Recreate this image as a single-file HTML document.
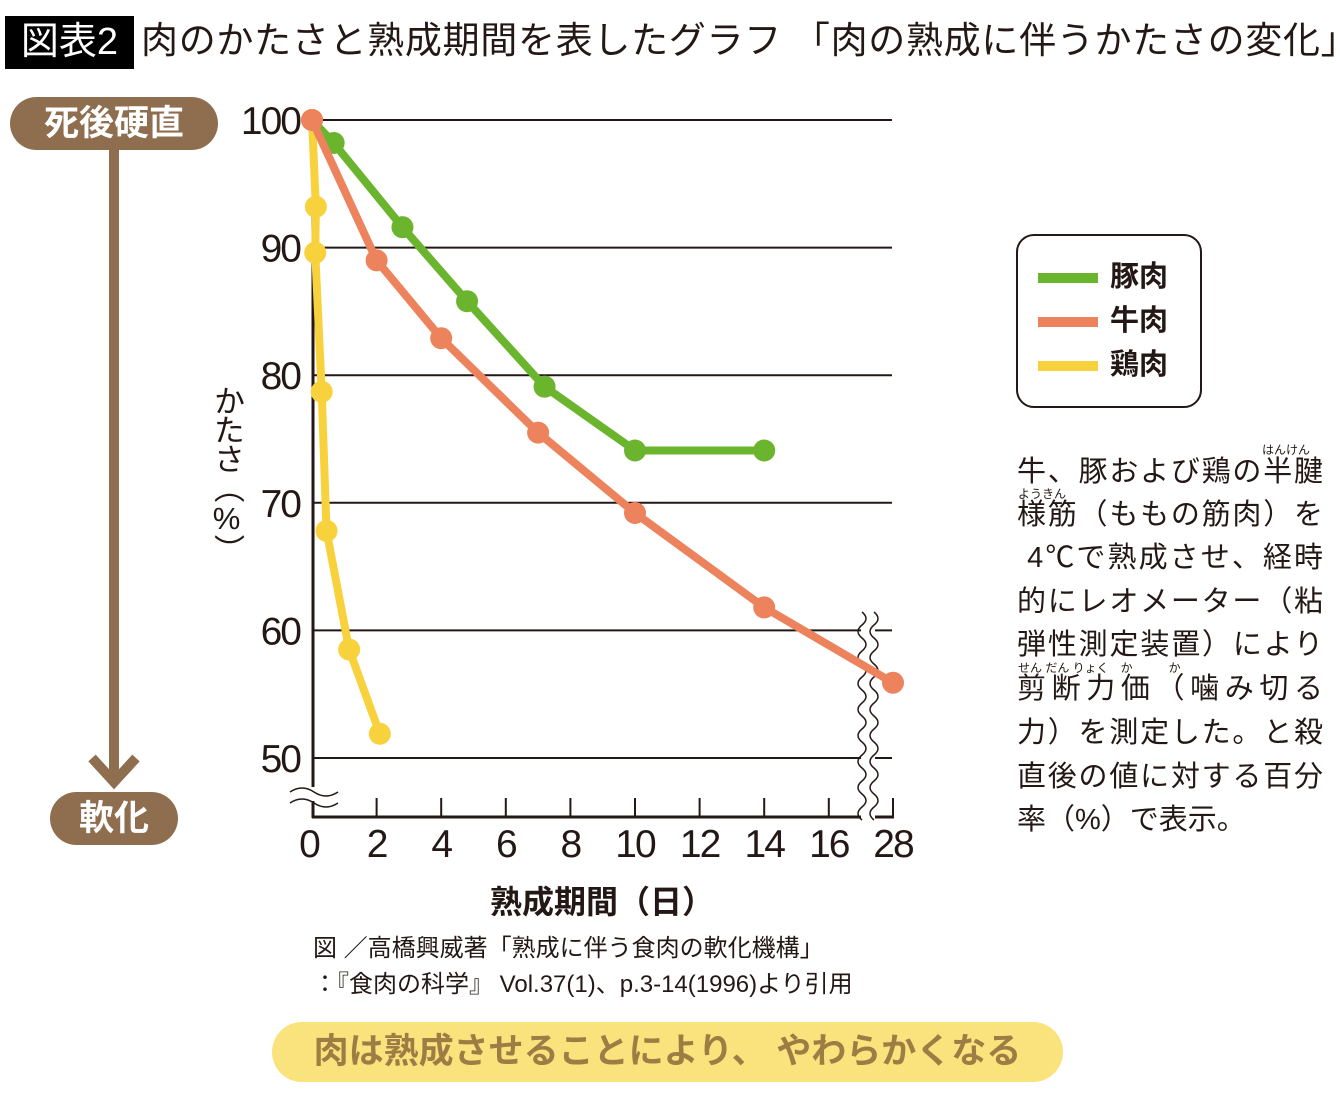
<!DOCTYPE html>
<html><head><meta charset="utf-8">
<style>
body{margin:0;width:1340px;height:1100px;background:#fff;overflow:hidden;position:relative;font-family:"Liberation Sans","Noto Sans CJK JP",sans-serif;color:#231815}
.a{position:absolute;white-space:nowrap}
.desc{position:absolute;left:1017px;font-size:29px;line-height:29px;white-space:nowrap;width:306px;text-align:justify;text-align-last:justify}
.rb{position:absolute;font-size:12px;line-height:12px;white-space:nowrap}
</style></head><body>
<div class="a" style="left:5px;top:16px;width:129px;height:53px;background:#000;color:#fff;font-size:38px;line-height:53px;text-align:center">図表2</div>
<div class="a" style="left:141px;top:18px;font-size:37px;line-height:46px;letter-spacing:0.7px">肉のかたさと熟成期間を表したグラフ 「肉の熟成に伴うかたさの変化」</div>

<div class="a" style="left:10px;top:97px;width:208px;height:53px;border-radius:27px;background:#8f6e4f;color:#fff;font-size:35px;font-weight:bold;line-height:53px;text-align:center">死後硬直</div>
<div class="a" style="left:50px;top:792px;width:128px;height:53px;border-radius:27px;background:#8f6e4f;color:#fff;font-size:35px;font-weight:bold;line-height:53px;text-align:center">軟化</div>

<svg class="a" style="left:0;top:0" width="1340" height="1100">
<line x1="114" y1="148" x2="114" y2="780" stroke="#8f6e4f" stroke-width="10"/>
<polyline points="92,758 114,782 136,758" fill="none" stroke="#8f6e4f" stroke-width="10"/>
<g id="grid"></g>
<g id="axes"></g>
<g id="series"></g>
</svg>

<div class="a" style="left:208px;top:385px;font-size:31px;writing-mode:vertical-rl;text-orientation:upright;line-height:36px;letter-spacing:-2px">かたさ（%）</div>
<div class="a" style="left:490px;top:882px;font-size:32px;font-weight:bold;line-height:40px">熟成期間（日）</div>
<div class="a" style="left:313px;top:934px;font-size:24px;line-height:30px">図 ／高橋興威著「熟成に伴う食肉の軟化機構」</div>
<div class="a" style="left:313px;top:970px;font-size:24px;line-height:30px">：『食肉の科学』 Vol.37(1)、p.3-14(1996)より引用</div>

<div class="a" style="left:272px;top:1022px;width:791px;height:60px;border-radius:30px;background:#fae27c;color:#9e7d45;font-size:35px;font-weight:bold;line-height:60px;text-align:center">肉は熟成させることにより、 やわらかくなる</div>

<div class="a" style="left:1016px;top:234px;width:182px;height:170px;border:2px solid #231815;border-radius:18px"></div>
<div class="a" style="left:1038px;top:262px;font-size:29px;font-weight:bold;line-height:30px"><span style="display:inline-block;width:60px;height:10px;background:#6bb42e;vertical-align:middle;margin-right:12px"></span>豚肉</div>
<div class="a" style="left:1038px;top:306px;font-size:29px;font-weight:bold;line-height:30px"><span style="display:inline-block;width:60px;height:10px;background:#ec835d;vertical-align:middle;margin-right:12px"></span>牛肉</div>
<div class="a" style="left:1038px;top:350px;font-size:29px;font-weight:bold;line-height:30px"><span style="display:inline-block;width:60px;height:10px;background:#f8d23c;vertical-align:middle;margin-right:12px"></span>鶏肉</div>

<div>
<span class="rb" style="left:1262px;top:444px">はんけん</span>
<div class="desc" style="top:458px">牛、豚および鶏の半腱</div>
<span class="rb" style="left:1018px;top:488px">ようきん</span>
<div class="desc" style="top:501px">様筋（ももの筋肉）を</div>
<div class="desc" style="top:544px">&nbsp;4℃で熟成させ、経時</div>
<div class="desc" style="top:588px">的にレオメーター（粘</div>
<div class="desc" style="top:631px">弾性測定装置）により</div>
<span class="rb" style="left:1018px;top:662px">せん だん りょく　か　　　か</span>
<div class="desc" style="top:675px">剪断力価（噛み切る</div>
<div class="desc" style="top:719px">力）を測定した。と殺</div>
<div class="desc" style="top:763px">直後の値に対する百分</div>
<div class="desc" style="top:806px;text-align-last:left">率（%）で表示。</div>
</div>

<script>
const yTicks=[100,90,80,70,60,50];
const xTicks=[0,2,4,6,8,10,12,14,16,28];
const porkDays=[0,0.67,2.8,4.8,7.2,10,14];
const porkVals=[100,98.2,91.6,85.8,79.1,74.1,74.1];
const beefDays=[0,2,4,7,10,14,28];
const beefVals=[100,89,82.9,75.5,69.2,61.8,55.9];
const chickDays=[0,0.12,0.1,0.3,0.45,1.15,2.1];
const chickVals=[100,93.2,89.6,78.7,67.8,58.5,51.9];

const NS='http://www.w3.org/2000/svg';
function X(d){return d<=16?312+32.3*d:829+(d-16)*(64/12);}
function Y(v){return 120+(100-v)*12.76;}
function mk(tag,attrs,parent){const e=document.createElementNS(NS,tag);for(const k in attrs)e.setAttribute(k,attrs[k]);parent.appendChild(e);return e;}
const grid=document.getElementById('grid'),axes=document.getElementById('axes'),ser=document.getElementById('series');
yTicks.forEach(v=>{
  const l=mk('line',{x1:313,x2:892,y1:Y(v),y2:Y(v),stroke:'#231815','stroke-width':2},grid);
  
  
  const t=mk('text',{x:300,y:Y(v)+14,'text-anchor':'end','font-size':39,'letter-spacing':-2,fill:'#231815','font-family':'Liberation Sans, sans-serif'},axes);
  t.textContent=v;
  
  
});
const ya=mk('line',{x1:313,x2:313,y1:120,y2:818,stroke:'#231815','stroke-width':3},axes);


const xa=mk('line',{x1:312,x2:894,y1:817,y2:817,stroke:'#231815','stroke-width':3},axes);


xTicks.forEach(d=>{
  if(d>0){const tk=mk('line',{x1:X(d),x2:X(d),y1:798,y2:817,stroke:'#231815','stroke-width':2},axes);
  
  }
  const t=mk('text',{x:X(d)-(d===0?3:0),y:857,'text-anchor':'middle','font-size':39,'letter-spacing':-2,fill:'#231815','font-family':'Liberation Sans, sans-serif'},axes);
  t.textContent=d;
  
  
});
function series(days,vals,color,name){
  const pts=days.map((d,i)=>X(d)+','+Y(vals[i])).join(' ');
  const pl=mk('polyline',{points:pts,fill:'none',stroke:color,'stroke-width':8,'stroke-linejoin':'round'},ser);
  
  
  days.forEach((d,i)=>{const c=mk('circle',{cx:X(d),cy:Y(vals[i]),r:11,fill:color},ser);
    
    });
}
series(porkDays,porkVals,'#6bb42e','pork');
series(chickDays,chickVals,'#f8d23c','chicken');
series(beefDays,beefVals,'#ec835d','beef');
const wx=mk('rect',{x:861,y:612,width:14,height:210,fill:'#fff'},axes);


[862,874].forEach(x0=>{let d='M'+x0+' 612';for(let y=612;y<820;y+=26){d+=' q8 6.5 0 13 q-8 6.5 0 13';}
  const p=mk('path',{d:d,fill:'none',stroke:'#231815','stroke-width':1.5},axes);
  
  });
const wy=mk('rect',{x:290,y:787,width:48,height:14,fill:'#fff'},axes);


[789,800].forEach(y0=>{const p=mk('path',{d:'M290 '+(y0+3)+' q12 -8 24 0 q12 8 24 0',fill:'none',stroke:'#231815','stroke-width':1.5},axes);
  
  });
</script>
</body></html>
